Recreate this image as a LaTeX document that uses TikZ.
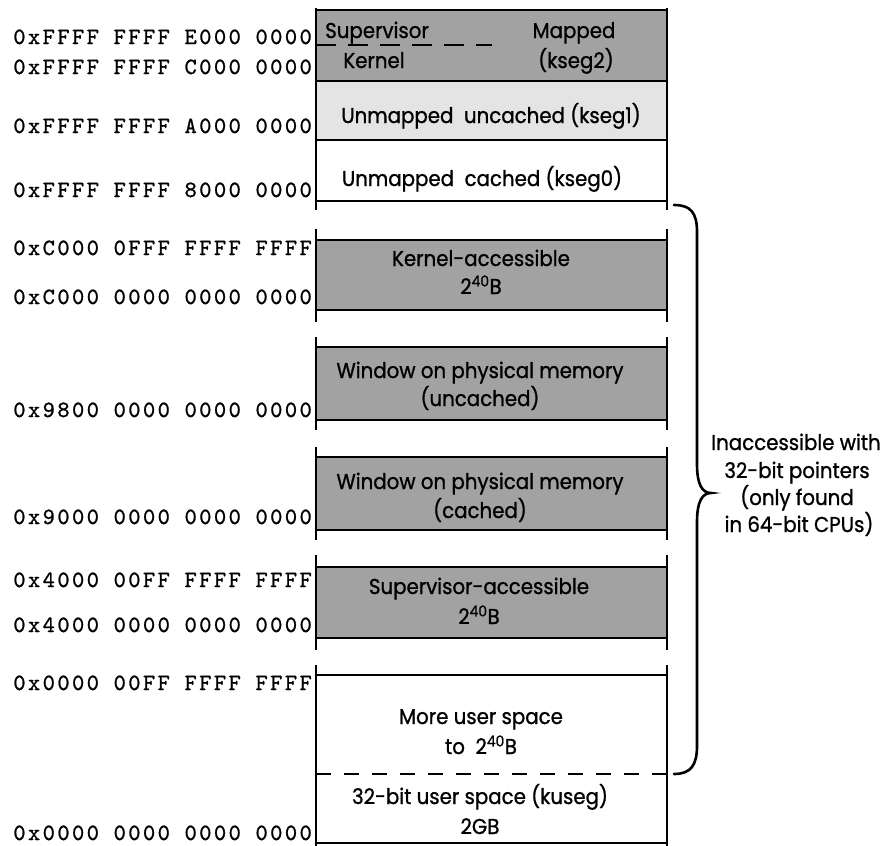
\documentclass[tikz,border=0pt]{standalone}
\usepackage{fontspec}
\newfontfamily\boxfont{Poppins}[FakeStretch=0.92, FakeBold=1]
\newfontfamily\addrfont{lmmono10-regular.otf}[LetterSpace=10.5, FakeBold=1]
\definecolor{darkseg}{HTML}{A2A2A2}
\definecolor{lightseg}{HTML}{E4E4E4}
\tikzset{
  wall/.style={line width=2.6pt},
  dashwall/.style={line width=2.4pt, dash pattern=on 15pt off 13pt},
  addr/.style={font=\addrfont\fontsize{23.3}{26}\selectfont, inner sep=0pt, anchor=east, text height=14pt, text depth=0pt},
  lbl/.style={font=\boxfont\fontsize{21.5}{24}\selectfont, inner sep=0pt, text height=16pt, text depth=4pt},
}
\begin{document}
\begin{tikzpicture}[x=1pt,y=-1pt]
\useasboundingbox (0,0) rectangle (881,846);
% ---------- top group (kseg2 / kseg1 / kseg0)
\fill[darkseg] (316,10) rectangle (667,81);
\fill[lightseg] (316,81) rectangle (667,140);
\draw[wall] (316,8) -- (316,210);
\draw[wall] (667,8) -- (667,210);
\foreach \yy in {10,81,140,201} \draw[wall] (316,\yy) -- (667,\yy);
\draw[line width=2.2pt, dash pattern=on 20pt off 12pt] (316,45) -- (492,45);
% ---------- separate segments
\foreach \va/\tp/\bt/\vb in {229/240/310/322, 337/347/420/430, 447/457/530/540, 555/567/638/650}{
  \fill[darkseg] (316,\tp) rectangle (667,\bt);
  \draw[wall] (316,\va) -- (316,\vb);
  \draw[wall] (667,\va) -- (667,\vb);
  \draw[wall] (316,\tp) -- (667,\tp);
  \draw[wall] (316,\bt) -- (667,\bt);
}
% user space
\draw[wall] (316,665) -- (316,846);
\draw[wall] (667,665) -- (667,846);
\draw[wall] (316,675) -- (667,675);
\draw[wall] (316,843) -- (667,843);
\draw[dashwall] (316,774) -- (667,774);
% ---------- address labels
\node[addr] (a1) at (312,37) {0xFFFF FFFF E000 0000};
\node[addr] (a2) at (312,67) {0xFFFF FFFF C000 0000};
\node[addr] (a3) at (312,126) {0xFFFF FFFF A000 0000};
\node[addr] (a4) at (312,190) {0xFFFF FFFF 8000 0000};
\node[addr] (a5) at (312,248) {0xC000 0FFF FFFF FFFF};
\node[addr] (a6) at (312,297) {0xC000 0000 0000 0000};
\node[addr] (a7) at (312,410) {0x9800 0000 0000 0000};
\node[addr] (a8) at (312,517) {0x9000 0000 0000 0000};
\node[addr] (a9) at (312,580) {0x4000 00FF FFFF FFFF};
\node[addr] (a10) at (312,625) {0x4000 0000 0000 0000};
\node[addr] (a11) at (312,683) {0x0000 00FF FFFF FFFF};
\node[addr] (a12) at (312,833) {0x0000 0000 0000 0000};
% ---------- segment texts
\node[lbl, anchor=west] (sup) at (325,32) {Supervisor};
\node[lbl] (ker) at (374,62) {Kernel};
\node[lbl] (map) at (574,32) {Mapped};
\node[lbl] (ks2) at (576,62) {(kseg2)};
\node[lbl] (ks1) at (491,117) {Unmapped\ \ uncached (kseg1)};
\node[lbl] (ks0) at (482,180) {Unmapped\ \ cached (kseg0)};
\node[lbl] (ka1) at (481,260) {Kernel-accessible};
\node[lbl] (ka2) at (481,288) {2\textsuperscript{40}B};
\node[lbl] (wu1) at (480,372) {Window on physical memory};
\node[lbl] (wu2) at (480,400) {(uncached)};
\node[lbl] (wc1) at (480,483) {Window on physical memory};
\node[lbl] (wc2) at (480,512) {(cached)};
\node[lbl] (sa1) at (479,588) {Supervisor-accessible};
\node[lbl] (sa2) at (479,618) {2\textsuperscript{40}B};
\node[lbl] (mu1) at (481,718) {More user space};
\node[lbl] (mu2) at (481,748) {to\ \ 2\textsuperscript{40}B};
\node[lbl] (ku1) at (480,798) {32-bit user space (kuseg)};
\node[lbl] (ku2) at (480,828) {2GB};
% ---------- brace and note
\coordinate (btop) at (674,205);
\coordinate (bbot) at (674,774);
\coordinate (btip) at (711,493);
\draw[wall, line cap=round] (btop) .. controls (691,205) and (697,213) .. (697,232)
  -- (697,464) .. controls (697,484) and (702,493) .. (btip)
  .. controls (702,493) and (697,502) .. (697,522)
  -- (697,746) .. controls (697,765) and (691,774) .. (bbot);
\node[lbl] (n1) at (796,444) {Inaccessible with};
\node[lbl] (n2) at (797,472) {32-bit pointers};
\node[lbl] (n3) at (797,499) {(only found};
\node[lbl] (n4) at (799,526) {in 64-bit CPUs)};
\end{tikzpicture}
\end{document}
